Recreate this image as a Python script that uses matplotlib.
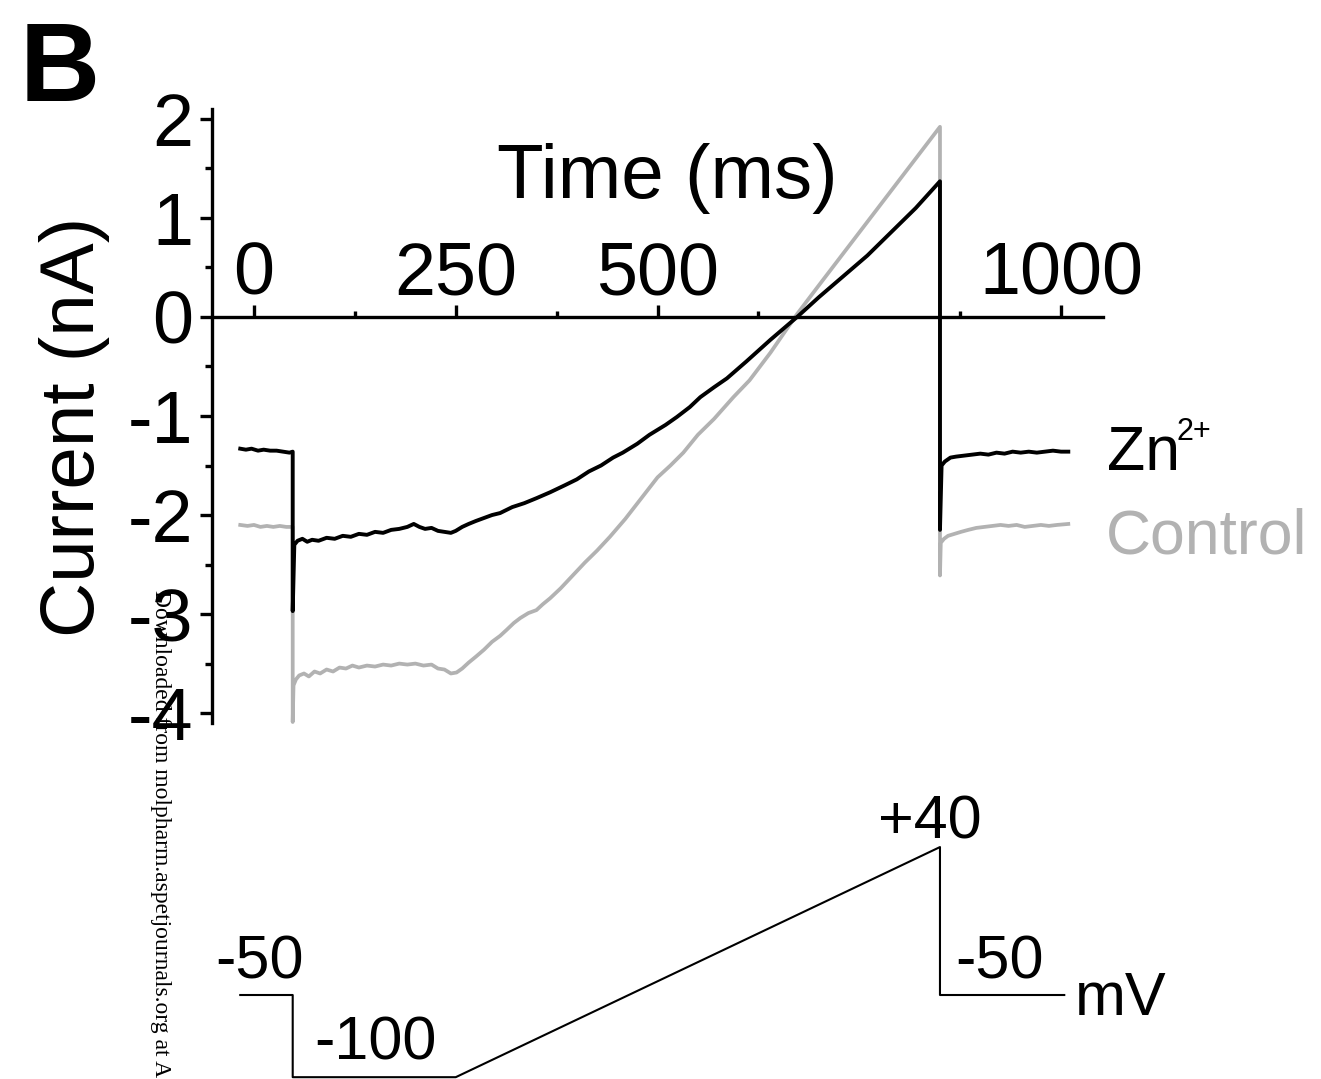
import numpy as np
import matplotlib.pyplot as plt

plt.rcParams['font.family'] = ['Liberation Sans', 'DejaVu Sans']

# current traces, time in ms, current in nA
zn_t = [-17, -10, -3, 5, 12, 20, 28, 36, 44, 48,
        48, 50, 54, 60, 66, 72, 80, 90, 100, 110, 120, 130, 140, 150, 160,
        170, 180, 190, 198, 205, 212, 220, 228, 236, 244, 250, 258, 266, 275,
        285, 295, 305, 320, 335, 350, 367, 385, 400, 415, 430, 445, 457, 475,
        490, 510, 524, 540, 553, 570, 586, 610, 640, 673, 700, 730, 760, 790,
        820, 850,
        850, 852, 856, 863, 870, 880, 890, 900, 910, 920, 930, 940, 950, 960,
        970, 980, 990, 1000, 1009]
zn_i = [-1.33, -1.34, -1.33, -1.35, -1.34, -1.35, -1.35, -1.36, -1.37, -1.36,
        -2.97, -2.30, -2.26, -2.24, -2.27, -2.25, -2.26, -2.23, -2.24, -2.21,
        -2.22, -2.19, -2.20, -2.17, -2.18, -2.15, -2.14, -2.12, -2.09, -2.12,
        -2.14, -2.13, -2.16, -2.17, -2.18, -2.16, -2.12, -2.09, -2.06, -2.03,
        -2.00, -1.98, -1.92, -1.88, -1.83, -1.77, -1.70, -1.64, -1.56, -1.50,
        -1.42, -1.37, -1.28, -1.19, -1.09, -1.01, -0.91, -0.81, -0.71, -0.62,
        -0.45, -0.23, 0.0, 0.20, 0.41, 0.62, 0.86, 1.10, 1.37,
        -2.15, -1.50, -1.46, -1.42, -1.41, -1.40, -1.39, -1.38, -1.39, -1.37,
        -1.38, -1.36, -1.37, -1.36, -1.37, -1.36, -1.35, -1.36, -1.36]

ctrl_t = [-17, -8, 0, 8, 16, 24, 32, 40, 48,
          48, 49, 52, 56, 62, 68, 75, 82, 90, 98, 106, 114, 122, 130, 140, 150,
          160, 170, 180, 190, 200, 210, 220, 228, 236, 244, 251, 258, 266, 275,
          285, 295, 305, 313, 322, 330, 340, 350, 358, 367, 380, 395, 410, 425,
          441, 460, 480, 500, 516, 532, 550, 570, 594, 614, 640, 673, 700, 730,
          760, 790, 820, 850,
          850, 851, 855, 860, 868, 876, 885, 895, 905, 915, 925, 935, 945, 955,
          965, 975, 985, 995, 1009]
ctrl_i = [-2.10, -2.11, -2.10, -2.12, -2.11, -2.12, -2.11, -2.12, -2.12,
          -4.09, -3.72, -3.66, -3.62, -3.60, -3.63, -3.58, -3.60, -3.56, -3.58,
          -3.54, -3.55, -3.52, -3.54, -3.52, -3.53, -3.51, -3.52, -3.50, -3.51,
          -3.50, -3.52, -3.51, -3.55, -3.56, -3.60, -3.59, -3.55, -3.49, -3.43,
          -3.36, -3.28, -3.22, -3.16, -3.09, -3.04, -2.99, -2.96, -2.90, -2.84,
          -2.74, -2.61, -2.48, -2.36, -2.22, -2.04, -1.83, -1.62, -1.50, -1.37,
          -1.19, -1.03, -0.81, -0.64, -0.36, 0.03, 0.32, 0.64, 0.96, 1.28,
          1.60, 1.92,
          -2.61, -2.28, -2.24, -2.21, -2.19, -2.17, -2.15, -2.13, -2.12, -2.11,
          -2.10, -2.11, -2.10, -2.12, -2.11, -2.10, -2.11, -2.10, -2.09]

# voltage protocol (ms, mV)
volt_t = [-17, 48, 48, 250, 850, 850, 1004]
volt_v = [-50, -50, -100, -100, 40, -50, -50]

x_major = [0, 250, 500, 1000]
x_labels = ['0', '250', '500', '1000']
x_minor = [125, 375, 625, 875]
y_major = [-4, -3, -2, -1, 0, 1, 2]
y_labels = ['-4', '-3', '-2', '-1', '0', '1', '2']
y_minor = [-3.5, -2.5, -1.5, -0.5, 0.5, 1.5]

W, H = 1321, 1079
fig = plt.figure(figsize=(W / 100, H / 100), dpi=100)

ax = fig.add_axes([212 / W, 1 - 723 / H, 891 / W, 614 / H])
ax.plot(ctrl_t, ctrl_i, color='#b2b2b2', lw=2.7, clip_on=False)
ax.plot(zn_t, zn_i, color='black', lw=2.8, clip_on=False)
ax.set_xlim(-52, 1052)
ax.set_ylim(-4.1, 2.1)

ax.spines['right'].set_visible(False)
ax.spines['bottom'].set_visible(False)
ax.spines['top'].set_position(('data', 0))
ax.spines['top'].set_linewidth(2.4)
ax.spines['left'].set_linewidth(2.4)
ax.xaxis.set_ticks_position('top')

ax.set_xticks(x_major)
ax.set_xticklabels(x_labels)
ax.set_xticks(x_minor, minor=True)
ax.set_yticks(y_major)
ax.set_yticklabels(y_labels)
ax.set_yticks(y_minor, minor=True)
ax.tick_params(axis='x', which='major', direction='out', length=8.5, width=2.4,
               labelsize=53, pad=-3)
ax.tick_params(axis='x', which='minor', direction='out', length=4, width=2.4)
ax.tick_params(axis='y', which='major', direction='out', length=8.5, width=2.4,
               labelsize=53, pad=5)
ax.tick_params(axis='y', which='minor', direction='out', length=5, width=2.4)

ax.set_ylabel('Current (nA)', fontsize=55)
ax.yaxis.set_label_coords(-0.115, 0.482)
ax.text(0.5107, 0.855, 'Time (ms)', transform=ax.transAxes, fontsize=55,
        ha='center', va='baseline')

# legend labels
ax.text(1107 / W, 1 - 470 / H, 'Zn', transform=fig.transFigure, fontsize=45,
        ha='left', va='baseline')
ax.text(1177 / W, 1 - 440 / H, '2+', transform=fig.transFigure, fontsize=22,
        ha='left', va='baseline')
ax.text(1106 / W, 1 - 553 / H, 'Control', transform=fig.transFigure,
        fontsize=45, color='#b2b2b2', ha='left', va='baseline')

fig.text(20 / W, 1 - 101 / H, 'B', fontsize=80, fontweight='bold',
         ha='left', va='baseline')

# voltage protocol
ax2 = fig.add_axes([212 / W, 0, 891 / W, 299 / H])
ax2.plot(volt_t, volt_v, color='black', lw=1.5, clip_on=False)
ax2.set_xlim(-52, 1052)
ax2.set_ylim(-101.1, 80.8)
ax2.axis('off')
ax2.text(-48, -39.7, '-50', fontsize=44, ha='left', va='baseline')
ax2.text(75, -89.5, '-100', fontsize=44, ha='left', va='baseline')
ax2.text(773, 45.5, '+40', fontsize=44, ha='left', va='baseline')
ax2.text(869, -39.7, '-50', fontsize=44, ha='left', va='baseline')
ax2.text(1017, -62.2, 'mV', fontsize=44, ha='left', va='baseline')

fig.text(160 / W, 1 - 590 / H, 'Downloaded from molpharm.aspetjournals.org at A',
         family='Liberation Serif', fontsize=17, rotation=270,
         ha='center', va='top')

fig.savefig('out.png', dpi=100)
